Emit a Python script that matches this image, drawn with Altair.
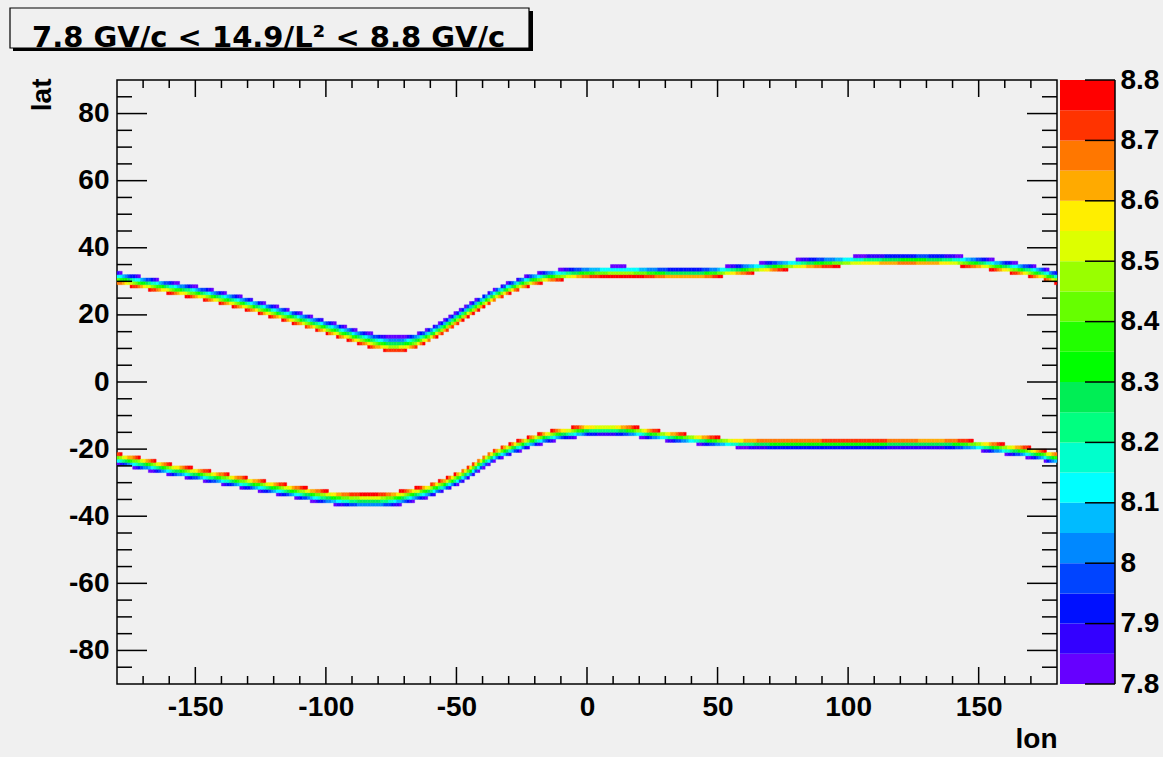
import altair as alt
import numpy as np
import pandas as pd

alt.data_transformers.disable_max_rows()

# ---- data -------------------------------------------------------------------
KEY_LON = list(range(-180, 181, 5))
# latitude of the band centre (value ~8.3 GV/c) for the northern band
UPPER_LAT = [31.0, 30.3, 29.6, 28.9, 28.2, 27.5, 26.8, 26.0, 25.1, 24.2,
             23.2, 22.1, 21.0, 19.9, 18.8, 17.6, 16.4, 15.2, 14.0, 12.9,
             11.9, 11.3, 11.4, 12.4, 14.2, 16.4, 18.9, 21.5, 23.9, 26.1,
             28.0, 29.5, 30.7, 31.5, 32.0, 32.4, 32.7, 32.9, 33.0, 33.0,
             32.9, 32.7, 32.5, 32.4, 32.4, 32.5, 32.8, 33.2, 33.6, 34.0,
             34.4, 34.8, 35.1, 35.4, 35.6, 35.8, 36.0, 36.2, 36.3, 36.4,
             36.5, 36.5, 36.5, 36.4, 36.2, 35.9, 35.5, 35.0, 34.4, 33.8,
             33.1, 32.2, 31.0]
# latitude of the band centre for the southern band
LOWER_LAT = [-22.8, -23.6, -24.4, -25.2, -26.0, -26.7, -27.4, -28.1, -28.8, -29.5,
             -30.2, -30.9, -31.6, -32.3, -33.0, -33.7, -34.3, -34.8, -35.2, -35.4,
             -35.4, -35.0, -34.3, -33.4, -32.3, -30.8, -29.0, -26.8, -24.0, -21.7,
             -20.2, -18.7, -17.4, -16.3, -15.5, -15.0, -14.4, -14.2, -14.2, -14.5,
             -15.0, -15.6, -16.1, -16.6, -17.0, -17.4, -17.8, -18.1, -18.3, -18.4,
             -18.5, -18.5, -18.5, -18.5, -18.5, -18.5, -18.5, -18.5, -18.5, -18.5,
             -18.4, -18.4, -18.4, -18.4, -18.5, -18.7, -19.0, -19.5, -20.0, -20.5,
             -21.1, -21.9, -22.8]
# band thickness (degrees of latitude per GV/c)
T_LON = [-180, -150, -120, -90, -75, -60, -30, 0, 30, 60, 90, 120, 150, 180]
UPPER_T = [3.6, 3.6, 3.7, 4.0, 4.5, 3.8, 3.5, 3.1, 2.9, 2.9, 2.8, 2.8, 3.1, 3.6]
LOWER_T = [3.4, 3.4, 3.5, 4.0, 4.3, 3.8, 3.4, 3.2, 2.8, 2.6, 2.5, 2.5, 2.8, 3.4]

PALETTE = ["#6600ff", "#3300ff", "#0010ff", "#0044ff", "#0088ff",
           "#00bbff", "#00ffff", "#00ffcc", "#00ff80", "#00ee55",
           "#00ff00", "#22ff00", "#66ff00", "#99ff00", "#ddff00",
           "#ffee00", "#ffaa00", "#ff7700", "#ff3300", "#ff0000"]
THRESHOLDS = [7.85, 7.90, 7.95, 8.00, 8.05, 8.10, 8.15, 8.20, 8.25, 8.30,
              8.35, 8.40, 8.45, 8.50, 8.55, 8.60, 8.65, 8.70, 8.75]
CBAR_LO = [7.80, 7.85, 7.90, 7.95, 8.00, 8.05, 8.10, 8.15, 8.20, 8.25,
           8.30, 8.35, 8.40, 8.45, 8.50, 8.55, 8.60, 8.65, 8.70, 8.75]
CBAR_HI = [7.85, 7.90, 7.95, 8.00, 8.05, 8.10, 8.15, 8.20, 8.25, 8.30,
           8.35, 8.40, 8.45, 8.50, 8.55, 8.60, 8.65, 8.70, 8.75, 8.80]
CBAR_LABELS = [7.8, 7.9, 8.0, 8.1, 8.2, 8.3, 8.4, 8.5, 8.6, 8.7, 8.8]

X_MAJOR = [-150, -100, -50, 0, 50, 100, 150]
X_MINOR = [-170, -160, -140, -130, -120, -110, -90, -80, -70, -60, -40, -30, -20, -10,
           10, 20, 30, 40, 60, 70, 80, 90, 110, 120, 130, 140, 160, 170]
Y_MAJOR = [-80, -60, -40, -20, 0, 20, 40, 60, 80]
Y_MINOR = [-85, -75, -70, -65, -55, -50, -45, -35, -30, -25, -15, -10, -5,
           5, 10, 15, 25, 30, 35, 45, 50, 55, 65, 70, 75, 85]

TITLE = "7.8 GV/c < 14.9/L\u00b2 < 8.8 GV/c"

assert len(UPPER_LAT) == len(KEY_LON) == len(LOWER_LAT)

# ---- build the 1 deg x 1 deg histogram cells ---------------------------------
rows = []
for lats, ts, sign in ((UPPER_LAT, UPPER_T, -1.0), (LOWER_LAT, LOWER_T, 1.0)):
    for lon0 in range(-180, 180):
        m = lon0 + 0.5
        c = float(np.interp(m, KEY_LON, lats))
        t = float(np.interp(m, T_LON, ts))
        for lat0 in range(int(np.floor(c - 2 * t)), int(np.ceil(c + 2 * t)) + 1):
            v = 8.3 + sign * (lat0 + 0.5 - c) / t
            if 7.8 <= v < 8.8:
                rows.append({"lon0": lon0, "lon1": lon0 + 1,
                             "lat0": lat0, "lat1": lat0 + 1, "v": round(v, 4)})
cells = pd.DataFrame(rows)

cbar = pd.DataFrame({"lo": CBAR_LO, "hi": CBAR_HI,
                     "mid": [(a + b) / 2 for a, b in zip(CBAR_LO, CBAR_HI)]})

W, H = 940, 604
FONT = "Liberation Sans"
HYPHEN = "replace('' + datum.value, '\u2212', '-')"

xscale = alt.Scale(domain=[-180, 180], nice=False, zero=False)
yscale = alt.Scale(domain=[-90, 90], nice=False, zero=False)
cbscale = alt.Scale(domain=[7.8, 8.8], nice=False, zero=False)
cscale = alt.Scale(type="threshold", domain=THRESHOLDS, range=PALETTE)

heat = alt.Chart(cells).mark_rect(strokeWidth=0.4).encode(
    x=alt.X("lon0:Q", scale=xscale,
            axis=alt.Axis(values=X_MAJOR, labelExpr=HYPHEN, ticks=False, orient="bottom",
                          domain=False, grid=False, labelPadding=9,
                          title="lon", titleX=W, titleY=63,
                          titleAlign="right", titleBaseline="alphabetic",
                          titleFontSize=28, titleFont=FONT, titleFontWeight="bold",
                          labelFont=FONT, labelFontWeight="bold", labelFontSize=28,
                          labelColor="black", titleColor="black")),
    x2="lon1:Q",
    y=alt.Y("lat0:Q", scale=yscale,
            axis=alt.Axis(values=Y_MAJOR, labelExpr=HYPHEN, ticks=False, orient="left",
                          domain=False, grid=False, labelPadding=8,
                          title="lat", titleAngle=270,
                          titleX=-67, titleY=-2, titleAlign="right",
                          titleBaseline="alphabetic", titleFontSize=28,
                          titleFont=FONT, titleFontWeight="bold",
                          labelFont=FONT, labelFontWeight="bold", labelFontSize=28,
                          labelColor="black", titleColor="black")),
    y2="lat1:Q",
    color=alt.Color("v:Q", scale=cscale, legend=None),
    stroke=alt.Stroke("v:Q", scale=cscale, legend=None),
)


def xticks(vals, y_a, y_b):
    return alt.Chart(pd.DataFrame({"v": vals})).mark_rule(color="black", strokeWidth=1.5).encode(
        x=alt.X("v:Q", scale=xscale, axis=None), y=alt.value(y_a), y2=alt.value(y_b))


def yticks(vals, x_a, x_b):
    return alt.Chart(pd.DataFrame({"v": vals})).mark_rule(color="black", strokeWidth=1.5).encode(
        y=alt.Y("v:Q", scale=yscale, axis=None), x=alt.value(x_a), x2=alt.value(x_b))


cb_rects = alt.Chart(cbar).mark_rect().encode(
    x=alt.value(943), x2=alt.value(998),
    y=alt.Y("lo:Q", scale=cbscale,
            axis=alt.Axis(orient="right", offset=58, values=CBAR_LABELS, format="~g",
                          ticks=False, domain=False, grid=False,
                          labelPadding=5, labelOverlap=False, title=None,
                          labelFont=FONT, labelFontWeight="bold", labelFontSize=28,
                          labelColor="black")),
    y2="hi:Q",
    color=alt.Color("mid:Q", scale=cscale, legend=None),
)
cb_ticks = alt.Chart(pd.DataFrame({"v": CBAR_LABELS})).mark_rule(color="black", strokeWidth=1.5).encode(
    y=alt.Y("v:Q", scale=cbscale, axis=None), x=alt.value(968), x2=alt.value(998))
cb_edge = alt.Chart(pd.DataFrame({"v": [7.8]})).mark_rule(color="black", strokeWidth=1.5).encode(
    x=alt.value(998), y=alt.value(0), y2=alt.value(H))

tdf = pd.DataFrame({"t": [TITLE]})
shadow = alt.Chart(tdf).mark_rect(color="black").encode(
    x=alt.value(-104), x2=alt.value(416), y=alt.value(-69), y2=alt.value(-29))
box = alt.Chart(tdf).mark_rect(fill="#f0f0f0", stroke="black", strokeWidth=1.2).encode(
    x=alt.value(-107), x2=alt.value(412), y=alt.value(-72), y2=alt.value(-32))
ttext = alt.Chart(tdf).mark_text(align="left", baseline="alphabetic", font="DejaVu Sans",
                                 fontWeight="bold", fontSize=29, color="black").encode(
    text="t:N", x=alt.value(-85), y=alt.value(-33))

chart = alt.layer(
    heat,
    xticks(X_MAJOR, H, H - 17), xticks(X_MINOR, H, H - 8),
    xticks(X_MAJOR, 0, 17), xticks(X_MINOR, 0, 8),
    yticks(Y_MAJOR, 0, 30), yticks(Y_MINOR, 0, 15),
    yticks(Y_MAJOR, W, W - 30), yticks(Y_MINOR, W, W - 15),
    cb_rects, cb_ticks, cb_edge,
    shadow, box, ttext,
).resolve_scale(y="independent").resolve_axis(x="independent", y="independent").properties(
    width=W, height=H,
    autosize=alt.AutoSizeParams(type="none"),
    padding={"left": 117, "top": 80, "right": 106, "bottom": 73},
    background="#f0f0f0",
).configure_view(stroke="black", strokeWidth=1.5, fill="#f0f0f0")

chart.save("out.html", embed_options={"renderer": "svg", "actions": False})
